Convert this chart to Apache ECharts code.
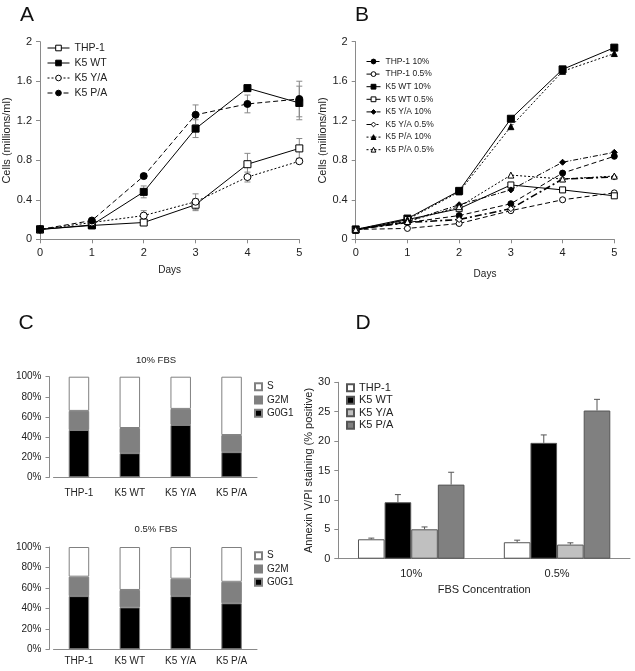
<!DOCTYPE html>
<html><head><meta charset="utf-8">
<script src="https://cdn.jsdelivr.net/npm/echarts@6/dist/echarts.min.js"></script>
<style>html,body{margin:0;padding:0;background:#fff}#c{width:635px;height:671px}</style>
</head><body><div id="c"></div>
<script>
// ---------- Panel A ----------
const days = [0,1,2,3,4,5];
const aNames = ['THP-1','K5 WT','K5 Y/A','K5 P/A'];
const aTHP1 = [0.10,0.14,0.17,0.35,0.76,0.92];
const aTHP1Err = [0,0.02,0.02,0.06,0.11,0.10];
const aWT = [0.10,0.145,0.48,1.12,1.53,1.38];
const aWTErr = [0,0.01,0.06,0.09,0.03,0.17];
const aYA = [0.10,0.17,0.24,0.38,0.63,0.79];
const aYAErr = [0,0.01,0.05,0.08,0.05,0.02];
const aPA = [0.10,0.19,0.64,1.26,1.37,1.42];
const aPAErr = [0,0.01,0.02,0.10,0.09,0.18];
// ---------- Panel B ----------
const bNames = ['THP-1 10%','THP-1 0.5%','K5 WT 10%','K5 WT 0.5%','K5 Y/A 10%','K5 Y/A 0.5%','K5 P/A 10%','K5 P/A 0.5%'];
const bTHP1_10 = [0.10,0.17,0.24,0.36,0.67,0.84];
const bTHP1_05 = [0.10,0.11,0.16,0.29,0.40,0.47];
const bWT_10 = [0.10,0.21,0.49,1.22,1.72,1.94];
const bWT_05 = [0.09,0.20,0.31,0.55,0.50,0.44];
const bYA_10 = [0.10,0.18,0.35,0.50,0.78,0.88];
const bYA_05 = [0.10,0.17,0.20,0.31,0.61,0.63];
const bPA_10 = [0.10,0.20,0.48,1.14,1.70,1.88];
const bPA_05 = [0.10,0.18,0.33,0.65,0.61,0.64];
// ---------- Panel C ----------
const cCats = ['THP-1','K5 WT','K5 Y/A','K5 P/A'];
const c10_G0G1 = [47,24,52,25];
const c10_G2M = [19,25,16,17];
const c10_S = [34,51,32,58];
const c05_G0G1 = [52,41,52,45];
const c05_G2M = [19,17,17,21];
const c05_S = [29,42,31,34];
// ---------- Panel D ----------
const dCats = ['10%','0.5%'];
const dNames = ['THP-1','K5 WT','K5 Y/A','K5 P/A'];
const dTHP1 = [3.3,2.8];
const dTHP1Err = [0.2,0.35];
const dWT = [9.6,19.7];
const dWTErr = [1.3,1.35];
const dYA = [5.0,2.4];
const dYAErr = [0.4,0.3];
const dPA = [12.6,25.2];
const dPAErr = [2.1,1.9];

const FONT = 'Liberation Sans, Arial, sans-serif';
const TXT = '#222';
const AX = '#8a8a8a';
const pts = arr => days.map((d,i)=>[d, arr[i]]);
const errPts = (arr, err) => days.map((d,i)=>[d, arr[i], err[i]]);

function errRender(params, api){
  const x = api.value(0), y = api.value(1), e = api.value(2);
  if (!e) return null;
  const hi = api.coord([x, y + e]), lo = api.coord([x, y - e]);
  const w = 3;
  const st = {stroke:'#888', lineWidth:1};
  return {type:'group', children:[
    {type:'line', shape:{x1:hi[0],y1:hi[1],x2:lo[0],y2:lo[1]}, style:st},
    {type:'line', shape:{x1:hi[0]-w,y1:hi[1],x2:hi[0]+w,y2:hi[1]}, style:st},
    {type:'line', shape:{x1:lo[0]-w,y1:lo[1],x2:lo[0]+w,y2:lo[1]}, style:st}
  ]};
}
const BAR_CAT_GAP = 0.27;
function dErrRender(params, api){
  const ci = api.value(0), v = api.value(1), e = api.value(2), bi = api.value(3);
  const c = api.coord([ci, v]);
  const t = api.coord([ci, v + e]);
  const cat = api.size([1,0])[0];
  const bw = cat * (1 - BAR_CAT_GAP) / 4;
  const cx = c[0] - 2*bw + (bi + 0.5)*bw;
  const st = {stroke:'#555', lineWidth:1};
  return {type:'group', children:[
    {type:'line', shape:{x1:cx,y1:c[1],x2:cx,y2:t[1]}, style:st},
    {type:'line', shape:{x1:cx-3,y1:t[1],x2:cx+3,y2:t[1]}, style:st}
  ]};
}

function lineSeries(name, xi, data, symbol, filled, lineType, size, lw){
  return {
    name, type:'line', xAxisIndex:xi, yAxisIndex:xi, data,
    symbol, symbolSize:size, z:3,
    itemStyle:{color: filled ? '#000' : '#fff', borderColor:'#000', borderWidth:1},
    lineStyle:{color:'#000', width: lw || 1, type: lineType},
    emphasis:{disabled:true}
  };
}

const axisCommon = {
  axisLine:{show:true, lineStyle:{color:AX, width:1}},
  axisTick:{show:true, length:4, lineStyle:{color:AX}},
  splitLine:{show:false},
  axisLabel:{fontFamily:FONT, color:TXT, fontSize:11},
  nameTextStyle:{fontFamily:FONT, color:TXT, fontSize:11}
};
function ax(o){ return Object.assign({}, JSON.parse(JSON.stringify(axisCommon)), o); }

const option = {
  animation:false,
  backgroundColor:'#fff',
  textStyle:{fontFamily:FONT},
  grid:[
    {left:40, top:41.7, width:259.3, height:197.6},
    {left:355.7, top:41.7, width:258.6, height:197.6},
    {left:53.5, top:376.7, width:203.5, height:100.6},
    {left:53.5, top:547, width:203.5, height:102.3},
    {left:338.3, top:382.3, width:291.7, height:176.4}
  ],
  xAxis:[
    ax({gridIndex:0, type:'value', min:0, max:5, interval:1, name:'Days', nameLocation:'middle', nameGap:26,
        nameTextStyle:{fontFamily:FONT, color:TXT, fontSize:10}}),
    ax({gridIndex:1, type:'value', min:0, max:5, interval:1, name:'Days', nameLocation:'middle', nameGap:30,
        nameTextStyle:{fontFamily:FONT, color:TXT, fontSize:10}}),
    ax({gridIndex:2, type:'category', data:cCats, axisTick:{show:false},
        axisLabel:{fontFamily:FONT, color:TXT, fontSize:10, margin:11}}),
    ax({gridIndex:3, type:'category', data:cCats, axisTick:{show:false},
        axisLabel:{fontFamily:FONT, color:TXT, fontSize:10, margin:7}}),
    ax({gridIndex:4, type:'category', data:dCats, axisTick:{show:false},
        axisLabel:{fontFamily:FONT, color:TXT, fontSize:11, margin:10},
        name:'FBS Concentration', nameLocation:'middle', nameGap:26})
  ],
  yAxis:[
    ax({gridIndex:0, type:'value', min:0, max:2, interval:0.4, name:'Cells (millions/ml)', nameLocation:'middle', nameGap:22}),
    ax({gridIndex:1, type:'value', min:0, max:2, interval:0.4, name:'Cells (millions/ml)', nameLocation:'middle', nameGap:22}),
    ax({gridIndex:2, type:'value', min:0, max:100, interval:20, offset:4,
        axisLabel:{fontFamily:FONT, color:TXT, fontSize:10, formatter:'{value}%'}}),
    ax({gridIndex:3, type:'value', min:0, max:100, interval:20, offset:4,
        axisLabel:{fontFamily:FONT, color:TXT, fontSize:10, formatter:'{value}%'}}),
    ax({gridIndex:4, type:'value', min:0, max:30, interval:5, name:'Annexin V/PI staining (% positive)',
        nameLocation:'middle', nameGap:22})
  ],
  legend:[
    {data:aNames, left:47, top:42.5, orient:'vertical', itemWidth:22, itemHeight:7, itemGap:4,
     lineStyle:{width:1}, itemStyle:{borderWidth:1},
     textStyle:{fontFamily:FONT, color:TXT, fontSize:10.5}, selectedMode:false, padding:0},
    {data:bNames, left:366, top:57, orient:'vertical', itemWidth:14, itemHeight:6, itemGap:3.6,
     lineStyle:{width:1}, itemStyle:{borderWidth:1},
     textStyle:{fontFamily:FONT, color:TXT, fontSize:8.5}, selectedMode:false, padding:0},
    {data:['S','G2M','G0G1'], left:254, top:381.7, orient:'vertical', icon:'rect', itemWidth:7, itemHeight:7, itemGap:3.3,
     textStyle:{fontFamily:FONT, color:TXT, fontSize:10}, selectedMode:false, padding:0},
    {data:['S','G2M','G0G1'], left:254, top:550.7, orient:'vertical', icon:'rect', itemWidth:7, itemHeight:7, itemGap:3.3,
     textStyle:{fontFamily:FONT, color:TXT, fontSize:10}, selectedMode:false, padding:0},
    {data:dNames.map(n=>'D '+n), left:346, top:382.2, orient:'vertical', icon:'rect', itemWidth:7, itemHeight:7, itemGap:1.5,
     formatter: n => n.replace(/^D /,''),
     textStyle:{fontFamily:FONT, color:TXT, fontSize:11}, selectedMode:false, padding:0}
  ],
  graphic:[
    {type:'text', x:27, y:15, style:{text:'A', font:'21px '+FONT, fill:'#111', textAlign:'center', textVerticalAlign:'middle'}},
    {type:'text', x:362, y:15, style:{text:'B', font:'21px '+FONT, fill:'#111', textAlign:'center', textVerticalAlign:'middle'}},
    {type:'text', x:26, y:323, style:{text:'C', font:'21px '+FONT, fill:'#111', textAlign:'center', textVerticalAlign:'middle'}},
    {type:'text', x:363, y:323, style:{text:'D', font:'21px '+FONT, fill:'#111', textAlign:'center', textVerticalAlign:'middle'}},
    {type:'text', x:156, y:360, style:{text:'10% FBS', font:'9.5px '+FONT, fill:TXT, textAlign:'center', textVerticalAlign:'middle'}},
    {type:'text', x:156, y:529, style:{text:'0.5% FBS', font:'9.5px '+FONT, fill:TXT, textAlign:'center', textVerticalAlign:'middle'}}
  ],
  series:[
    // A error bars
    {type:'custom', xAxisIndex:0, yAxisIndex:0, renderItem:errRender, data:errPts(aTHP1,aTHP1Err), z:1, silent:true},
    {type:'custom', xAxisIndex:0, yAxisIndex:0, renderItem:errRender, data:errPts(aWT,aWTErr), z:1, silent:true},
    {type:'custom', xAxisIndex:0, yAxisIndex:0, renderItem:errRender, data:errPts(aYA,aYAErr), z:1, silent:true},
    {type:'custom', xAxisIndex:0, yAxisIndex:0, renderItem:errRender, data:errPts(aPA,aPAErr), z:1, silent:true},
    // A lines
    lineSeries('THP-1', 0, pts(aTHP1), 'rect', false, 'solid', 7),
    lineSeries('K5 WT', 0, pts(aWT), 'rect', true, 'solid', 7),
    lineSeries('K5 Y/A', 0, pts(aYA), 'circle', false, [2,2], 7),
    lineSeries('K5 P/A', 0, pts(aPA), 'circle', true, [5,3], 7),
    // B lines
    lineSeries('THP-1 10%', 1, pts(bTHP1_10), 'circle', true, [5,3], 6),
    lineSeries('THP-1 0.5%', 1, pts(bTHP1_05), 'circle', false, [5,3], 6),
    lineSeries('K5 WT 10%', 1, pts(bWT_10), 'rect', true, 'solid', 7),
    lineSeries('K5 WT 0.5%', 1, pts(bWT_05), 'rect', false, 'solid', 6),
    lineSeries('K5 Y/A 10%', 1, pts(bYA_10), 'diamond', true, [5,2,1,2], 6),
    lineSeries('K5 Y/A 0.5%', 1, pts(bYA_05), 'diamond', false, [7,3,2,3], 6, 1.6),
    lineSeries('K5 P/A 10%', 1, pts(bPA_10), 'triangle', true, [2,2], 6),
    lineSeries('K5 P/A 0.5%', 1, pts(bPA_05), 'triangle', false, [2,2], 6),
    // C top
    {name:'G0G1', type:'bar', stack:'c10', xAxisIndex:2, yAxisIndex:2, data:c10_G0G1, barWidth:20.5,
     itemStyle:{color:'#000', borderColor:'#808080', borderWidth:1}},
    {name:'G2M', type:'bar', stack:'c10', xAxisIndex:2, yAxisIndex:2, data:c10_G2M, barWidth:20.5,
     itemStyle:{color:'#808080', borderColor:'#808080', borderWidth:1}},
    {name:'S', type:'bar', stack:'c10', xAxisIndex:2, yAxisIndex:2, data:c10_S, barWidth:20.5,
     itemStyle:{color:'#fff', borderColor:'#808080', borderWidth:1}},
    // C bottom
    {name:'G0G1', type:'bar', stack:'c05', xAxisIndex:3, yAxisIndex:3, data:c05_G0G1, barWidth:20.5,
     itemStyle:{color:'#000', borderColor:'#808080', borderWidth:1}},
    {name:'G2M', type:'bar', stack:'c05', xAxisIndex:3, yAxisIndex:3, data:c05_G2M, barWidth:20.5,
     itemStyle:{color:'#808080', borderColor:'#808080', borderWidth:1}},
    {name:'S', type:'bar', stack:'c05', xAxisIndex:3, yAxisIndex:3, data:c05_S, barWidth:20.5,
     itemStyle:{color:'#fff', borderColor:'#808080', borderWidth:1}},
    // D bars
    {name:'D THP-1', type:'bar', xAxisIndex:4, yAxisIndex:4, data:dTHP1, barGap:'0%', barCategoryGap:(BAR_CAT_GAP*100)+'%',
     itemStyle:{color:'#fff', borderColor:'#555', borderWidth:1}},
    {name:'D K5 WT', type:'bar', xAxisIndex:4, yAxisIndex:4, data:dWT, barGap:'0%', barCategoryGap:(BAR_CAT_GAP*100)+'%',
     itemStyle:{color:'#000', borderColor:'#555', borderWidth:1}},
    {name:'D K5 Y/A', type:'bar', xAxisIndex:4, yAxisIndex:4, data:dYA, barGap:'0%', barCategoryGap:(BAR_CAT_GAP*100)+'%',
     itemStyle:{color:'#c0c0c0', borderColor:'#555', borderWidth:1}},
    {name:'D K5 P/A', type:'bar', xAxisIndex:4, yAxisIndex:4, data:dPA, barGap:'0%', barCategoryGap:(BAR_CAT_GAP*100)+'%',
     itemStyle:{color:'#808080', borderColor:'#555', borderWidth:1}},
    // D error bars
    {type:'custom', xAxisIndex:4, yAxisIndex:4, renderItem:dErrRender, z:5, silent:true,
     data:[].concat(
       dTHP1.map((v,i)=>[i,v,dTHP1Err[i],0]),
       dWT.map((v,i)=>[i,v,dWTErr[i],1]),
       dYA.map((v,i)=>[i,v,dYAErr[i],2]),
       dPA.map((v,i)=>[i,v,dPAErr[i],3]))}
  ]
};
const chart = echarts.init(document.getElementById('c'), null, {renderer:'canvas'});
chart.setOption(option);
</script>
</body></html>
